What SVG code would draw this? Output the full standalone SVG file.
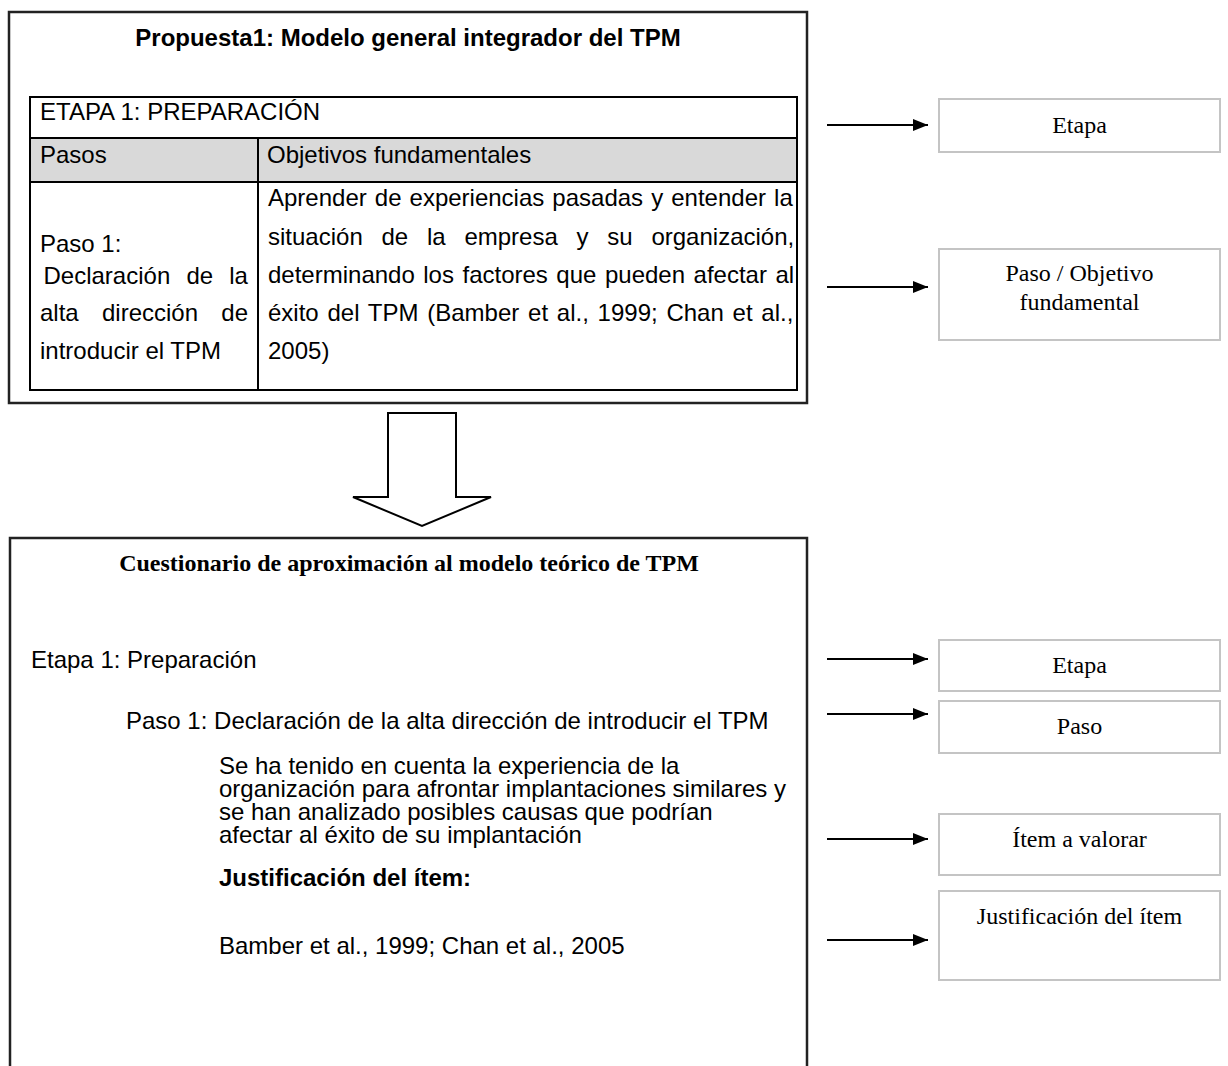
<svg xmlns="http://www.w3.org/2000/svg" width="1228" height="1066" viewBox="0 0 1228 1066">
<style>
.sans{font-family:"Liberation Sans",Arial,sans-serif;font-size:24px;fill:#000}
.serif{font-family:"Liberation Serif","Times New Roman",serif;font-size:24px;fill:#000}
.b{font-weight:bold}
.mid{text-anchor:middle}
.frame{fill:none;stroke:#222;stroke-width:2.5}
.grid{fill:none;stroke:#000;stroke-width:2}
.side{fill:#fff;stroke:#c4c4c4;stroke-width:2}
.conn{stroke:#000;stroke-width:2;fill:none;marker-end:url(#ah)}
</style>
<defs>
<marker id="ah" viewBox="0 0 15 12" refX="15" refY="6" markerWidth="15" markerHeight="12" markerUnits="userSpaceOnUse" orient="auto">
<path d="M0,0 L15,6 L0,12 z" fill="#000"/>
</marker>
</defs>
<rect width="1228" height="1066" fill="#fff"/>

<g id="modelo">
<rect class="frame" x="9" y="12" width="798" height="391"/>
<text class="sans b mid" x="408" y="46">Propuesta1: Modelo general integrador del TPM</text>
<rect x="30" y="138" width="767" height="44" fill="#d9d9d9"/>
<rect class="grid" x="30" y="97" width="767" height="293"/>
<line class="grid" x1="30" y1="138" x2="797" y2="138"/>
<line class="grid" x1="30" y1="182" x2="797" y2="182"/>
<line class="grid" x1="258" y1="138" x2="258" y2="390"/>
<text class="sans" x="40" y="120">ETAPA 1: PREPARACIÓN</text>
<text class="sans" x="40" y="163">Pasos</text>
<text class="sans" x="267" y="163">Objetivos fundamentales</text>
<text class="sans" x="40" y="252">Paso 1:</text>
<text class="sans" x="43.5" y="284" word-spacing="9.5">Declaración de la</text>
<text class="sans" x="40" y="321" word-spacing="16.6">alta dirección de</text>
<text class="sans" x="40" y="359">introducir el TPM</text>
<text class="sans" x="268" y="206" word-spacing="1.4">Aprender de experiencias pasadas y entender la</text>
<text class="sans" x="268" y="245" word-spacing="12.1">situación de la empresa y su organización,</text>
<text class="sans" x="268" y="283" word-spacing="1.85">determinando los factores que pueden afectar al</text>
<text class="sans" x="268" y="321" word-spacing="2.1">éxito del TPM (Bamber et al., 1999; Chan et al.,</text>
<text class="sans" x="268" y="359">2005)</text>
</g>

<g id="flecha-bloque">
<polygon points="388,413 456,413 456,497 491,497 422,526 353,497 388,497" fill="#fff" stroke="#000" stroke-width="2" stroke-linejoin="miter"/>
</g>

<g id="cuestionario">
<path class="frame" d="M10,1066 V538 H807 V1066"/>
<text class="serif b mid" x="409" y="571">Cuestionario de aproximación al modelo teórico de TPM</text>
<text class="sans" x="31" y="668">Etapa 1: Preparación</text>
<text class="sans" x="126" y="729">Paso 1: Declaración de la alta dirección de introducir el TPM</text>
<text class="sans" x="219" y="774"><tspan x="219">Se ha tenido en cuenta la experiencia de la</tspan><tspan x="219" dy="23">organización para afrontar implantaciones similares y</tspan><tspan x="219" dy="23">se han analizado posibles causas que podrían</tspan><tspan x="219" dy="23">afectar al éxito de su implantación</tspan></text>
<text class="sans b" x="219" y="886">Justificación del ítem:</text>
<text class="sans" x="219" y="954">Bamber et al., 1999; Chan et al., 2005</text>
</g>

<g id="etiqueta-etapa-1">
<rect class="side" x="939" y="99" width="281" height="53"/>
<text class="serif mid" x="1079.5" y="133">Etapa</text>
</g>
<g id="etiqueta-paso-objetivo">
<rect class="side" x="939" y="249" width="281" height="91"/>
<text class="serif mid" x="1079.5" y="281">Paso / Objetivo</text>
<text class="serif mid" x="1079.5" y="310">fundamental</text>
</g>
<g id="etiqueta-etapa-2">
<rect class="side" x="939" y="640" width="281" height="51"/>
<text class="serif mid" x="1079.5" y="673">Etapa</text>
</g>
<g id="etiqueta-paso">
<rect class="side" x="939" y="701" width="281" height="52"/>
<text class="serif mid" x="1079.5" y="734">Paso</text>
</g>
<g id="etiqueta-item">
<rect class="side" x="939" y="814" width="281" height="61"/>
<text class="serif mid" x="1079.5" y="847">Ítem a valorar</text>
</g>
<g id="etiqueta-justificacion">
<rect class="side" x="939" y="891" width="281" height="89"/>
<text class="serif mid" x="1079.5" y="924">Justificación del ítem</text>
</g>

<g id="conectores">
<line class="conn" x1="827" y1="125" x2="928" y2="125"/>
<line class="conn" x1="827" y1="287" x2="928" y2="287"/>
<line class="conn" x1="827" y1="659" x2="928" y2="659"/>
<line class="conn" x1="827" y1="714" x2="928" y2="714"/>
<line class="conn" x1="827" y1="839" x2="928" y2="839"/>
<line class="conn" x1="827" y1="940" x2="928" y2="940"/>
</g>
</svg>
